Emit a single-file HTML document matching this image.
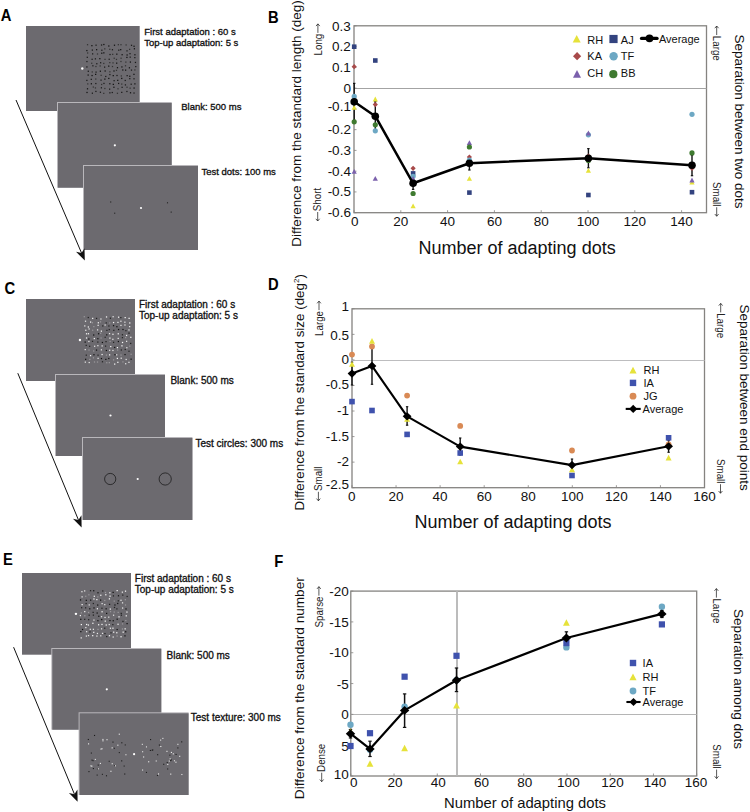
<!DOCTYPE html>
<html><head><meta charset="utf-8"><style>
html,body{margin:0;padding:0;background:#fff;}
body{width:750px;height:812px;overflow:hidden;font-family:"Liberation Sans", sans-serif;}
svg{display:block;}
</style></head><body>
<svg width="750" height="812" viewBox="0 0 750 812" font-family='"Liberation Sans", sans-serif'>
<rect width="750" height="812" fill="#fff"/>
<text x="0.70" y="21.20" font-size="16.6" text-anchor="start" font-weight="bold" fill="#000" transform="translate(0.7 21.2) scale(0.89 1) translate(-0.7 -21.2)">A</text>
<rect x="26" y="26" width="113.7" height="85" fill="#6c6a6f"/>
<rect x="57" y="102" width="114.7" height="85.7" fill="#b9b7bb"/>
<rect x="58" y="103" width="113.7" height="84.7" fill="#6c6a6f"/>
<rect x="83" y="165" width="115" height="85" fill="#b9b7bb"/>
<rect x="84" y="166" width="114" height="84" fill="#6c6a6f"/>
<rect x="86.92" y="44.09" width="1.24" height="1.24" fill="#333"/>
<rect x="86.26" y="49.95" width="1.24" height="1.24" fill="#111"/>
<rect x="87.02" y="52.37" width="1.24" height="1.24" fill="#333"/>
<rect x="86.66" y="56.69" width="1.24" height="1.24" fill="#1a1a1a"/>
<rect x="86.31" y="60.95" width="1.24" height="1.24" fill="#1a1a1a"/>
<rect x="86.29" y="66.34" width="1.24" height="1.24" fill="#111"/>
<rect x="87.66" y="70.63" width="1.24" height="1.24" fill="#111"/>
<rect x="87.53" y="74.43" width="1.24" height="1.24" fill="#111"/>
<rect x="86.26" y="79.79" width="1.24" height="1.24" fill="#1a1a1a"/>
<rect x="87.15" y="83.28" width="1.24" height="1.24" fill="#333"/>
<rect x="86.89" y="88.19" width="1.24" height="1.24" fill="#111"/>
<rect x="86.39" y="91.85" width="1.24" height="1.24" fill="#111"/>
<rect x="91.28" y="45.04" width="1.24" height="1.24" fill="#111"/>
<rect x="91.74" y="49.47" width="1.24" height="1.24" fill="#1a1a1a"/>
<rect x="92.02" y="53.26" width="1.24" height="1.24" fill="#1a1a1a"/>
<rect x="91.50" y="58.70" width="1.24" height="1.24" fill="#1a1a1a"/>
<rect x="91.10" y="62.64" width="1.24" height="1.24" fill="#333"/>
<rect x="92.26" y="65.18" width="1.24" height="1.24" fill="#1a1a1a"/>
<rect x="91.64" y="71.33" width="1.24" height="1.24" fill="#333"/>
<rect x="91.46" y="74.94" width="1.24" height="1.24" fill="#111"/>
<rect x="90.67" y="78.73" width="1.24" height="1.24" fill="#1a1a1a"/>
<rect x="90.75" y="83.15" width="1.24" height="1.24" fill="#111"/>
<rect x="92.69" y="86.42" width="1.24" height="1.24" fill="#333"/>
<rect x="91.76" y="92.58" width="1.24" height="1.24" fill="#1a1a1a"/>
<rect x="95.44" y="44.57" width="1.24" height="1.24" fill="#1a1a1a"/>
<rect x="96.01" y="49.07" width="1.24" height="1.24" fill="#111"/>
<rect x="96.89" y="53.37" width="1.24" height="1.24" fill="#333"/>
<rect x="94.78" y="58.23" width="1.24" height="1.24" fill="#1a1a1a"/>
<rect x="96.18" y="63.11" width="1.24" height="1.24" fill="#1a1a1a"/>
<rect x="95.31" y="65.91" width="1.24" height="1.24" fill="#333"/>
<rect x="95.46" y="71.49" width="1.24" height="1.24" fill="#1a1a1a"/>
<rect x="95.03" y="73.76" width="1.24" height="1.24" fill="#111"/>
<rect x="95.15" y="78.42" width="1.24" height="1.24" fill="#333"/>
<rect x="95.22" y="82.92" width="1.24" height="1.24" fill="#1a1a1a"/>
<rect x="94.82" y="87.31" width="1.24" height="1.24" fill="#333"/>
<rect x="95.29" y="90.81" width="1.24" height="1.24" fill="#1a1a1a"/>
<rect x="100.93" y="44.40" width="1.24" height="1.24" fill="#1a1a1a"/>
<rect x="101.23" y="49.62" width="1.24" height="1.24" fill="#1a1a1a"/>
<rect x="101.16" y="52.59" width="1.24" height="1.24" fill="#111"/>
<rect x="99.22" y="58.06" width="1.24" height="1.24" fill="#111"/>
<rect x="100.02" y="62.14" width="1.24" height="1.24" fill="#1a1a1a"/>
<rect x="99.54" y="65.33" width="1.24" height="1.24" fill="#333"/>
<rect x="99.75" y="70.59" width="1.24" height="1.24" fill="#111"/>
<rect x="100.52" y="74.72" width="1.24" height="1.24" fill="#333"/>
<rect x="100.43" y="79.51" width="1.24" height="1.24" fill="#1a1a1a"/>
<rect x="101.02" y="83.85" width="1.24" height="1.24" fill="#333"/>
<rect x="100.78" y="87.17" width="1.24" height="1.24" fill="#1a1a1a"/>
<rect x="99.81" y="91.64" width="1.24" height="1.24" fill="#1a1a1a"/>
<rect x="103.25" y="43.89" width="1.24" height="1.24" fill="#111"/>
<rect x="104.16" y="48.24" width="1.24" height="1.24" fill="#333"/>
<rect x="103.22" y="52.23" width="1.24" height="1.24" fill="#111"/>
<rect x="104.39" y="58.76" width="1.24" height="1.24" fill="#333"/>
<rect x="103.16" y="62.83" width="1.24" height="1.24" fill="#333"/>
<rect x="104.00" y="66.50" width="1.24" height="1.24" fill="#1a1a1a"/>
<rect x="104.54" y="70.37" width="1.24" height="1.24" fill="#111"/>
<rect x="105.14" y="75.86" width="1.24" height="1.24" fill="#1a1a1a"/>
<rect x="104.25" y="78.48" width="1.24" height="1.24" fill="#111"/>
<rect x="103.34" y="82.80" width="1.24" height="1.24" fill="#1a1a1a"/>
<rect x="104.25" y="87.89" width="1.24" height="1.24" fill="#333"/>
<rect x="103.15" y="92.76" width="1.24" height="1.24" fill="#333"/>
<rect x="108.20" y="45.39" width="1.24" height="1.24" fill="#111"/>
<rect x="109.16" y="48.70" width="1.24" height="1.24" fill="#333"/>
<rect x="109.41" y="53.90" width="1.24" height="1.24" fill="#1a1a1a"/>
<rect x="108.58" y="58.66" width="1.24" height="1.24" fill="#1a1a1a"/>
<rect x="109.19" y="62.01" width="1.24" height="1.24" fill="#333"/>
<rect x="108.13" y="65.52" width="1.24" height="1.24" fill="#111"/>
<rect x="109.27" y="71.19" width="1.24" height="1.24" fill="#333"/>
<rect x="109.26" y="73.96" width="1.24" height="1.24" fill="#1a1a1a"/>
<rect x="108.19" y="77.80" width="1.24" height="1.24" fill="#111"/>
<rect x="109.23" y="83.11" width="1.24" height="1.24" fill="#111"/>
<rect x="109.00" y="88.53" width="1.24" height="1.24" fill="#1a1a1a"/>
<rect x="109.28" y="92.22" width="1.24" height="1.24" fill="#1a1a1a"/>
<rect x="113.87" y="44.61" width="1.24" height="1.24" fill="#111"/>
<rect x="111.82" y="49.11" width="1.24" height="1.24" fill="#1a1a1a"/>
<rect x="112.06" y="53.73" width="1.24" height="1.24" fill="#333"/>
<rect x="113.59" y="57.63" width="1.24" height="1.24" fill="#333"/>
<rect x="112.40" y="62.27" width="1.24" height="1.24" fill="#333"/>
<rect x="111.86" y="65.91" width="1.24" height="1.24" fill="#333"/>
<rect x="113.37" y="70.38" width="1.24" height="1.24" fill="#111"/>
<rect x="112.62" y="75.01" width="1.24" height="1.24" fill="#111"/>
<rect x="113.50" y="80.06" width="1.24" height="1.24" fill="#1a1a1a"/>
<rect x="112.69" y="83.76" width="1.24" height="1.24" fill="#111"/>
<rect x="113.31" y="86.64" width="1.24" height="1.24" fill="#111"/>
<rect x="111.64" y="91.90" width="1.24" height="1.24" fill="#1a1a1a"/>
<rect x="117.75" y="44.08" width="1.24" height="1.24" fill="#333"/>
<rect x="118.16" y="49.56" width="1.24" height="1.24" fill="#1a1a1a"/>
<rect x="116.19" y="53.55" width="1.24" height="1.24" fill="#111"/>
<rect x="115.85" y="58.81" width="1.24" height="1.24" fill="#333"/>
<rect x="116.06" y="62.53" width="1.24" height="1.24" fill="#111"/>
<rect x="116.85" y="67.07" width="1.24" height="1.24" fill="#111"/>
<rect x="115.88" y="69.74" width="1.24" height="1.24" fill="#333"/>
<rect x="116.39" y="74.89" width="1.24" height="1.24" fill="#1a1a1a"/>
<rect x="117.12" y="79.73" width="1.24" height="1.24" fill="#111"/>
<rect x="118.00" y="82.83" width="1.24" height="1.24" fill="#1a1a1a"/>
<rect x="117.40" y="88.19" width="1.24" height="1.24" fill="#333"/>
<rect x="116.82" y="92.68" width="1.24" height="1.24" fill="#333"/>
<rect x="120.36" y="44.09" width="1.24" height="1.24" fill="#333"/>
<rect x="120.09" y="49.04" width="1.24" height="1.24" fill="#111"/>
<rect x="121.51" y="54.09" width="1.24" height="1.24" fill="#111"/>
<rect x="120.46" y="57.62" width="1.24" height="1.24" fill="#333"/>
<rect x="120.34" y="60.88" width="1.24" height="1.24" fill="#333"/>
<rect x="121.29" y="66.31" width="1.24" height="1.24" fill="#111"/>
<rect x="122.17" y="69.37" width="1.24" height="1.24" fill="#111"/>
<rect x="120.71" y="75.33" width="1.24" height="1.24" fill="#333"/>
<rect x="121.13" y="77.80" width="1.24" height="1.24" fill="#111"/>
<rect x="121.11" y="83.45" width="1.24" height="1.24" fill="#333"/>
<rect x="121.50" y="86.71" width="1.24" height="1.24" fill="#1a1a1a"/>
<rect x="121.14" y="91.76" width="1.24" height="1.24" fill="#1a1a1a"/>
<rect x="125.51" y="44.32" width="1.24" height="1.24" fill="#333"/>
<rect x="126.39" y="50.24" width="1.24" height="1.24" fill="#1a1a1a"/>
<rect x="126.50" y="54.37" width="1.24" height="1.24" fill="#111"/>
<rect x="126.30" y="56.81" width="1.24" height="1.24" fill="#111"/>
<rect x="125.23" y="61.49" width="1.24" height="1.24" fill="#333"/>
<rect x="124.87" y="65.16" width="1.24" height="1.24" fill="#333"/>
<rect x="125.01" y="69.52" width="1.24" height="1.24" fill="#111"/>
<rect x="126.54" y="75.02" width="1.24" height="1.24" fill="#1a1a1a"/>
<rect x="124.63" y="79.85" width="1.24" height="1.24" fill="#1a1a1a"/>
<rect x="124.81" y="84.27" width="1.24" height="1.24" fill="#1a1a1a"/>
<rect x="126.41" y="86.62" width="1.24" height="1.24" fill="#333"/>
<rect x="126.29" y="90.87" width="1.24" height="1.24" fill="#1a1a1a"/>
<rect x="130.91" y="44.70" width="1.24" height="1.24" fill="#1a1a1a"/>
<rect x="129.00" y="48.74" width="1.24" height="1.24" fill="#333"/>
<rect x="129.40" y="53.04" width="1.24" height="1.24" fill="#1a1a1a"/>
<rect x="129.58" y="56.52" width="1.24" height="1.24" fill="#1a1a1a"/>
<rect x="129.77" y="61.44" width="1.24" height="1.24" fill="#111"/>
<rect x="128.80" y="67.18" width="1.24" height="1.24" fill="#111"/>
<rect x="130.86" y="69.48" width="1.24" height="1.24" fill="#1a1a1a"/>
<rect x="129.18" y="75.65" width="1.24" height="1.24" fill="#111"/>
<rect x="129.17" y="78.04" width="1.24" height="1.24" fill="#1a1a1a"/>
<rect x="130.56" y="83.60" width="1.24" height="1.24" fill="#1a1a1a"/>
<rect x="129.50" y="87.52" width="1.24" height="1.24" fill="#333"/>
<rect x="129.90" y="92.16" width="1.24" height="1.24" fill="#111"/>
<rect x="133.43" y="45.65" width="1.24" height="1.24" fill="#111"/>
<rect x="133.78" y="48.15" width="1.24" height="1.24" fill="#111"/>
<rect x="134.29" y="54.15" width="1.24" height="1.24" fill="#111"/>
<rect x="134.22" y="57.01" width="1.24" height="1.24" fill="#1a1a1a"/>
<rect x="134.83" y="61.82" width="1.24" height="1.24" fill="#1a1a1a"/>
<rect x="135.15" y="65.98" width="1.24" height="1.24" fill="#1a1a1a"/>
<rect x="134.26" y="69.33" width="1.24" height="1.24" fill="#333"/>
<rect x="133.34" y="73.74" width="1.24" height="1.24" fill="#111"/>
<rect x="133.39" y="78.16" width="1.24" height="1.24" fill="#1a1a1a"/>
<rect x="134.27" y="83.25" width="1.24" height="1.24" fill="#111"/>
<rect x="133.46" y="87.43" width="1.24" height="1.24" fill="#111"/>
<rect x="133.41" y="92.41" width="1.24" height="1.24" fill="#1a1a1a"/>
<circle cx="82.28" cy="68.50" r="1.2" fill="#fff"/>
<circle cx="114.85" cy="145.35" r="1.1" fill="#fff"/>
<circle cx="141.00" cy="208.00" r="1.1" fill="#fff"/>
<rect x="110.15" y="201.45" width="1.10" height="1.10" fill="#222"/>
<rect x="114.15" y="212.65" width="1.10" height="1.10" fill="#222"/>
<rect x="166.95" y="202.25" width="1.10" height="1.10" fill="#222"/>
<rect x="170.65" y="211.55" width="1.10" height="1.10" fill="#222"/>
<text x="144.30" y="35.10" font-size="9.5" text-anchor="start" fill="#111" stroke="#111" stroke-width="0.32">First adaptation : 60 s</text>
<text x="144.30" y="46.10" font-size="9.5" text-anchor="start" fill="#111" stroke="#111" stroke-width="0.32">Top-up adaptation: 5 s</text>
<text x="181.20" y="110.00" font-size="9.5" text-anchor="start" fill="#111" stroke="#111" stroke-width="0.32">Blank: 500 ms</text>
<text x="201.40" y="174.60" font-size="9.5" text-anchor="start" fill="#111" stroke="#111" stroke-width="0.32">Test dots: 100 ms</text>
<line x1="16" y1="100" x2="81.54" y2="252.99" stroke="#111" stroke-width="1"/>
<polygon points="84.8,260.6 76.04,251.84 81.54,252.99 84.50,248.22" fill="#111"/>
<text x="4.40" y="294.00" font-size="16.6" text-anchor="start" font-weight="bold" fill="#000" transform="translate(4.4 294.0) scale(0.89 1) translate(-4.4 -294.0)">C</text>
<rect x="26" y="299" width="109" height="82" fill="#6c6a6f"/>
<rect x="55" y="374" width="110" height="82" fill="#b9b7bb"/>
<rect x="56" y="375" width="109" height="81" fill="#6c6a6f"/>
<rect x="82" y="437" width="110.4" height="83" fill="#b9b7bb"/>
<rect x="83" y="438" width="109.4" height="82" fill="#6c6a6f"/>
<rect x="83.67" y="316.08" width="1.24" height="1.24" fill="#9a989c"/>
<rect x="84.91" y="320.59" width="1.24" height="1.24" fill="#e8e8e8"/>
<rect x="84.17" y="325.31" width="1.24" height="1.24" fill="#e8e8e8"/>
<rect x="85.16" y="329.65" width="1.24" height="1.24" fill="#e8e8e8"/>
<rect x="85.91" y="333.18" width="1.24" height="1.24" fill="#f8f8f8"/>
<rect x="85.94" y="337.36" width="1.24" height="1.24" fill="#f8f8f8"/>
<rect x="84.56" y="341.47" width="1.24" height="1.24" fill="#111"/>
<rect x="85.59" y="344.77" width="1.24" height="1.24" fill="#222"/>
<rect x="84.62" y="348.97" width="1.24" height="1.24" fill="#e8e8e8"/>
<rect x="85.67" y="354.55" width="1.24" height="1.24" fill="#222"/>
<rect x="85.02" y="358.70" width="1.24" height="1.24" fill="#111"/>
<rect x="84.69" y="361.52" width="1.24" height="1.24" fill="#e8e8e8"/>
<rect x="87.66" y="316.91" width="1.24" height="1.24" fill="#222"/>
<rect x="89.98" y="321.45" width="1.24" height="1.24" fill="#f8f8f8"/>
<rect x="87.73" y="326.36" width="1.24" height="1.24" fill="#f8f8f8"/>
<rect x="88.50" y="328.34" width="1.24" height="1.24" fill="#e8e8e8"/>
<rect x="87.85" y="333.11" width="1.24" height="1.24" fill="#f8f8f8"/>
<rect x="88.24" y="338.40" width="1.24" height="1.24" fill="#111"/>
<rect x="88.28" y="340.86" width="1.24" height="1.24" fill="#e8e8e8"/>
<rect x="89.06" y="345.69" width="1.24" height="1.24" fill="#222"/>
<rect x="88.38" y="349.40" width="1.24" height="1.24" fill="#9a989c"/>
<rect x="89.95" y="354.99" width="1.24" height="1.24" fill="#f8f8f8"/>
<rect x="89.23" y="358.76" width="1.24" height="1.24" fill="#9a989c"/>
<rect x="88.58" y="361.92" width="1.24" height="1.24" fill="#e8e8e8"/>
<rect x="92.07" y="317.78" width="1.24" height="1.24" fill="#f8f8f8"/>
<rect x="91.82" y="322.14" width="1.24" height="1.24" fill="#9a989c"/>
<rect x="93.22" y="326.00" width="1.24" height="1.24" fill="#9a989c"/>
<rect x="92.04" y="329.60" width="1.24" height="1.24" fill="#9a989c"/>
<rect x="93.07" y="334.39" width="1.24" height="1.24" fill="#111"/>
<rect x="93.69" y="337.94" width="1.24" height="1.24" fill="#f8f8f8"/>
<rect x="91.91" y="340.74" width="1.24" height="1.24" fill="#222"/>
<rect x="94.01" y="345.64" width="1.24" height="1.24" fill="#e8e8e8"/>
<rect x="93.05" y="350.35" width="1.24" height="1.24" fill="#9a989c"/>
<rect x="93.34" y="354.11" width="1.24" height="1.24" fill="#111"/>
<rect x="92.81" y="357.21" width="1.24" height="1.24" fill="#9a989c"/>
<rect x="93.87" y="361.36" width="1.24" height="1.24" fill="#9a989c"/>
<rect x="95.93" y="317.81" width="1.24" height="1.24" fill="#222"/>
<rect x="97.72" y="322.17" width="1.24" height="1.24" fill="#f8f8f8"/>
<rect x="97.52" y="324.73" width="1.24" height="1.24" fill="#e8e8e8"/>
<rect x="96.96" y="329.26" width="1.24" height="1.24" fill="#e8e8e8"/>
<rect x="97.96" y="333.13" width="1.24" height="1.24" fill="#111"/>
<rect x="97.25" y="338.08" width="1.24" height="1.24" fill="#111"/>
<rect x="97.21" y="341.44" width="1.24" height="1.24" fill="#222"/>
<rect x="97.26" y="345.06" width="1.24" height="1.24" fill="#e8e8e8"/>
<rect x="95.92" y="349.49" width="1.24" height="1.24" fill="#111"/>
<rect x="97.43" y="354.56" width="1.24" height="1.24" fill="#222"/>
<rect x="97.47" y="357.73" width="1.24" height="1.24" fill="#e8e8e8"/>
<rect x="96.89" y="361.42" width="1.24" height="1.24" fill="#9a989c"/>
<rect x="100.31" y="318.39" width="1.24" height="1.24" fill="#e8e8e8"/>
<rect x="99.88" y="321.24" width="1.24" height="1.24" fill="#9a989c"/>
<rect x="102.16" y="325.32" width="1.24" height="1.24" fill="#222"/>
<rect x="100.76" y="330.54" width="1.24" height="1.24" fill="#f8f8f8"/>
<rect x="100.01" y="332.66" width="1.24" height="1.24" fill="#9a989c"/>
<rect x="100.46" y="337.40" width="1.24" height="1.24" fill="#9a989c"/>
<rect x="101.80" y="341.86" width="1.24" height="1.24" fill="#111"/>
<rect x="101.52" y="345.30" width="1.24" height="1.24" fill="#e8e8e8"/>
<rect x="100.78" y="349.22" width="1.24" height="1.24" fill="#e8e8e8"/>
<rect x="101.47" y="353.91" width="1.24" height="1.24" fill="#f8f8f8"/>
<rect x="100.83" y="357.94" width="1.24" height="1.24" fill="#111"/>
<rect x="101.85" y="361.14" width="1.24" height="1.24" fill="#222"/>
<rect x="105.91" y="316.33" width="1.24" height="1.24" fill="#f8f8f8"/>
<rect x="105.61" y="322.30" width="1.24" height="1.24" fill="#222"/>
<rect x="104.51" y="324.40" width="1.24" height="1.24" fill="#e8e8e8"/>
<rect x="106.30" y="329.75" width="1.24" height="1.24" fill="#222"/>
<rect x="106.12" y="334.25" width="1.24" height="1.24" fill="#111"/>
<rect x="104.57" y="336.66" width="1.24" height="1.24" fill="#222"/>
<rect x="105.42" y="341.00" width="1.24" height="1.24" fill="#222"/>
<rect x="104.95" y="345.50" width="1.24" height="1.24" fill="#222"/>
<rect x="105.78" y="349.87" width="1.24" height="1.24" fill="#111"/>
<rect x="105.85" y="354.45" width="1.24" height="1.24" fill="#9a989c"/>
<rect x="105.22" y="358.77" width="1.24" height="1.24" fill="#111"/>
<rect x="106.14" y="362.13" width="1.24" height="1.24" fill="#9a989c"/>
<rect x="109.77" y="317.59" width="1.24" height="1.24" fill="#222"/>
<rect x="109.13" y="322.33" width="1.24" height="1.24" fill="#9a989c"/>
<rect x="108.27" y="325.37" width="1.24" height="1.24" fill="#222"/>
<rect x="108.64" y="328.95" width="1.24" height="1.24" fill="#222"/>
<rect x="108.94" y="333.01" width="1.24" height="1.24" fill="#e8e8e8"/>
<rect x="109.30" y="337.49" width="1.24" height="1.24" fill="#f8f8f8"/>
<rect x="109.51" y="340.82" width="1.24" height="1.24" fill="#9a989c"/>
<rect x="110.14" y="345.93" width="1.24" height="1.24" fill="#f8f8f8"/>
<rect x="109.05" y="349.64" width="1.24" height="1.24" fill="#e8e8e8"/>
<rect x="108.99" y="354.25" width="1.24" height="1.24" fill="#f8f8f8"/>
<rect x="108.18" y="357.86" width="1.24" height="1.24" fill="#111"/>
<rect x="108.73" y="362.02" width="1.24" height="1.24" fill="#9a989c"/>
<rect x="112.51" y="316.09" width="1.24" height="1.24" fill="#e8e8e8"/>
<rect x="112.94" y="321.93" width="1.24" height="1.24" fill="#f8f8f8"/>
<rect x="112.93" y="325.05" width="1.24" height="1.24" fill="#111"/>
<rect x="113.22" y="329.72" width="1.24" height="1.24" fill="#222"/>
<rect x="112.33" y="333.65" width="1.24" height="1.24" fill="#f8f8f8"/>
<rect x="112.25" y="338.69" width="1.24" height="1.24" fill="#e8e8e8"/>
<rect x="112.98" y="341.71" width="1.24" height="1.24" fill="#222"/>
<rect x="114.06" y="346.83" width="1.24" height="1.24" fill="#111"/>
<rect x="112.33" y="349.86" width="1.24" height="1.24" fill="#e8e8e8"/>
<rect x="114.35" y="354.12" width="1.24" height="1.24" fill="#111"/>
<rect x="112.96" y="359.26" width="1.24" height="1.24" fill="#9a989c"/>
<rect x="114.08" y="363.47" width="1.24" height="1.24" fill="#f8f8f8"/>
<rect x="117.97" y="316.58" width="1.24" height="1.24" fill="#f8f8f8"/>
<rect x="117.34" y="321.78" width="1.24" height="1.24" fill="#e8e8e8"/>
<rect x="116.29" y="326.10" width="1.24" height="1.24" fill="#111"/>
<rect x="117.96" y="328.90" width="1.24" height="1.24" fill="#111"/>
<rect x="117.64" y="333.17" width="1.24" height="1.24" fill="#f8f8f8"/>
<rect x="117.59" y="337.81" width="1.24" height="1.24" fill="#e8e8e8"/>
<rect x="117.76" y="340.91" width="1.24" height="1.24" fill="#111"/>
<rect x="116.81" y="347.00" width="1.24" height="1.24" fill="#f8f8f8"/>
<rect x="117.02" y="349.38" width="1.24" height="1.24" fill="#9a989c"/>
<rect x="116.09" y="354.23" width="1.24" height="1.24" fill="#e8e8e8"/>
<rect x="116.76" y="357.80" width="1.24" height="1.24" fill="#f8f8f8"/>
<rect x="117.23" y="361.70" width="1.24" height="1.24" fill="#f8f8f8"/>
<rect x="120.22" y="317.03" width="1.24" height="1.24" fill="#222"/>
<rect x="120.28" y="320.61" width="1.24" height="1.24" fill="#e8e8e8"/>
<rect x="120.34" y="324.79" width="1.24" height="1.24" fill="#e8e8e8"/>
<rect x="122.37" y="328.88" width="1.24" height="1.24" fill="#111"/>
<rect x="121.82" y="334.16" width="1.24" height="1.24" fill="#222"/>
<rect x="121.79" y="337.02" width="1.24" height="1.24" fill="#222"/>
<rect x="121.92" y="341.85" width="1.24" height="1.24" fill="#f8f8f8"/>
<rect x="121.34" y="345.22" width="1.24" height="1.24" fill="#f8f8f8"/>
<rect x="120.70" y="349.37" width="1.24" height="1.24" fill="#222"/>
<rect x="120.41" y="354.44" width="1.24" height="1.24" fill="#9a989c"/>
<rect x="120.60" y="357.58" width="1.24" height="1.24" fill="#e8e8e8"/>
<rect x="122.33" y="361.28" width="1.24" height="1.24" fill="#9a989c"/>
<rect x="124.56" y="316.98" width="1.24" height="1.24" fill="#f8f8f8"/>
<rect x="124.27" y="321.57" width="1.24" height="1.24" fill="#e8e8e8"/>
<rect x="124.34" y="324.38" width="1.24" height="1.24" fill="#e8e8e8"/>
<rect x="125.29" y="330.05" width="1.24" height="1.24" fill="#222"/>
<rect x="125.97" y="334.83" width="1.24" height="1.24" fill="#f8f8f8"/>
<rect x="125.00" y="336.99" width="1.24" height="1.24" fill="#9a989c"/>
<rect x="126.00" y="340.72" width="1.24" height="1.24" fill="#e8e8e8"/>
<rect x="126.23" y="347.10" width="1.24" height="1.24" fill="#e8e8e8"/>
<rect x="124.62" y="348.85" width="1.24" height="1.24" fill="#222"/>
<rect x="124.41" y="353.95" width="1.24" height="1.24" fill="#111"/>
<rect x="125.56" y="358.86" width="1.24" height="1.24" fill="#e8e8e8"/>
<rect x="125.07" y="363.11" width="1.24" height="1.24" fill="#e8e8e8"/>
<rect x="128.49" y="317.73" width="1.24" height="1.24" fill="#f8f8f8"/>
<rect x="129.17" y="322.35" width="1.24" height="1.24" fill="#f8f8f8"/>
<rect x="129.05" y="326.01" width="1.24" height="1.24" fill="#e8e8e8"/>
<rect x="128.35" y="329.33" width="1.24" height="1.24" fill="#e8e8e8"/>
<rect x="128.37" y="332.52" width="1.24" height="1.24" fill="#111"/>
<rect x="130.20" y="336.69" width="1.24" height="1.24" fill="#f8f8f8"/>
<rect x="130.07" y="342.80" width="1.24" height="1.24" fill="#222"/>
<rect x="129.15" y="345.54" width="1.24" height="1.24" fill="#9a989c"/>
<rect x="128.38" y="350.63" width="1.24" height="1.24" fill="#222"/>
<rect x="130.49" y="353.65" width="1.24" height="1.24" fill="#9a989c"/>
<rect x="130.47" y="358.56" width="1.24" height="1.24" fill="#111"/>
<rect x="128.33" y="361.70" width="1.24" height="1.24" fill="#e8e8e8"/>
<circle cx="79.95" cy="340.00" r="1.2" fill="#fff"/>
<circle cx="110.50" cy="415.50" r="1.1" fill="#fff"/>
<circle cx="137.70" cy="479.00" r="1.1" fill="#fff"/>
<circle cx="110.20" cy="479.00" r="5.6" fill="none" stroke="#111" stroke-width="0.7"/>
<circle cx="165.20" cy="479.00" r="6.1" fill="none" stroke="#111" stroke-width="0.7"/>
<text x="139.00" y="307.80" font-size="10" text-anchor="start" fill="#111" stroke="#111" stroke-width="0.32">First adaptation : 60 s</text>
<text x="139.00" y="319.30" font-size="10" text-anchor="start" fill="#111" stroke="#111" stroke-width="0.32">Top-up adaptation: 5 s</text>
<text x="170.40" y="384.40" font-size="10" text-anchor="start" fill="#111" stroke="#111" stroke-width="0.32">Blank: 500 ms</text>
<text x="195.40" y="447.30" font-size="10" text-anchor="start" fill="#111" stroke="#111" stroke-width="0.32">Test circles: 300 ms</text>
<line x1="17.8" y1="373.2" x2="78.44" y2="519.95" stroke="#111" stroke-width="1"/>
<polygon points="81.6,527.6 72.96,518.73 78.44,519.95 81.46,515.21" fill="#111"/>
<text x="3.00" y="564.80" font-size="16.6" text-anchor="start" font-weight="bold" fill="#000" transform="translate(3.0 564.8) scale(0.89 1) translate(-3.0 -564.8)">E</text>
<rect x="22" y="573" width="109" height="81.7" fill="#6c6a6f"/>
<rect x="51.3" y="648" width="110" height="81.7" fill="#b9b7bb"/>
<rect x="52.3" y="649" width="109" height="80.7" fill="#6c6a6f"/>
<rect x="78.6" y="712.3" width="110.0" height="82.7" fill="#b9b7bb"/>
<rect x="79.6" y="713.3" width="109.0" height="81.7" fill="#6c6a6f"/>
<rect x="81.30" y="591.09" width="1.24" height="1.24" fill="#e8e8e8"/>
<rect x="81.48" y="596.25" width="1.24" height="1.24" fill="#e8e8e8"/>
<rect x="79.90" y="599.33" width="1.24" height="1.24" fill="#111"/>
<rect x="81.51" y="604.00" width="1.24" height="1.24" fill="#f8f8f8"/>
<rect x="81.04" y="607.10" width="1.24" height="1.24" fill="#222"/>
<rect x="80.69" y="612.28" width="1.24" height="1.24" fill="#9a989c"/>
<rect x="79.77" y="614.95" width="1.24" height="1.24" fill="#f8f8f8"/>
<rect x="80.18" y="618.72" width="1.24" height="1.24" fill="#111"/>
<rect x="80.74" y="623.96" width="1.24" height="1.24" fill="#f8f8f8"/>
<rect x="81.94" y="628.86" width="1.24" height="1.24" fill="#111"/>
<rect x="80.22" y="631.02" width="1.24" height="1.24" fill="#111"/>
<rect x="80.60" y="637.28" width="1.24" height="1.24" fill="#e8e8e8"/>
<rect x="84.06" y="590.29" width="1.24" height="1.24" fill="#e8e8e8"/>
<rect x="85.14" y="595.67" width="1.24" height="1.24" fill="#9a989c"/>
<rect x="85.68" y="599.74" width="1.24" height="1.24" fill="#111"/>
<rect x="85.52" y="602.93" width="1.24" height="1.24" fill="#222"/>
<rect x="85.01" y="607.21" width="1.24" height="1.24" fill="#222"/>
<rect x="84.13" y="610.99" width="1.24" height="1.24" fill="#f8f8f8"/>
<rect x="84.21" y="615.16" width="1.24" height="1.24" fill="#9a989c"/>
<rect x="84.10" y="618.72" width="1.24" height="1.24" fill="#222"/>
<rect x="86.03" y="623.87" width="1.24" height="1.24" fill="#f8f8f8"/>
<rect x="85.21" y="626.98" width="1.24" height="1.24" fill="#e8e8e8"/>
<rect x="86.03" y="631.07" width="1.24" height="1.24" fill="#e8e8e8"/>
<rect x="85.77" y="635.46" width="1.24" height="1.24" fill="#e8e8e8"/>
<rect x="89.90" y="590.07" width="1.24" height="1.24" fill="#222"/>
<rect x="88.27" y="594.18" width="1.24" height="1.24" fill="#9a989c"/>
<rect x="90.05" y="599.54" width="1.24" height="1.24" fill="#111"/>
<rect x="88.60" y="604.30" width="1.24" height="1.24" fill="#e8e8e8"/>
<rect x="89.16" y="608.17" width="1.24" height="1.24" fill="#111"/>
<rect x="87.96" y="611.83" width="1.24" height="1.24" fill="#9a989c"/>
<rect x="88.55" y="614.57" width="1.24" height="1.24" fill="#222"/>
<rect x="88.05" y="619.06" width="1.24" height="1.24" fill="#222"/>
<rect x="87.80" y="624.41" width="1.24" height="1.24" fill="#f8f8f8"/>
<rect x="89.67" y="628.70" width="1.24" height="1.24" fill="#e8e8e8"/>
<rect x="89.34" y="631.27" width="1.24" height="1.24" fill="#222"/>
<rect x="87.90" y="634.98" width="1.24" height="1.24" fill="#e8e8e8"/>
<rect x="93.09" y="590.12" width="1.24" height="1.24" fill="#111"/>
<rect x="93.68" y="595.65" width="1.24" height="1.24" fill="#f8f8f8"/>
<rect x="93.31" y="598.36" width="1.24" height="1.24" fill="#f8f8f8"/>
<rect x="92.73" y="602.88" width="1.24" height="1.24" fill="#222"/>
<rect x="93.38" y="607.31" width="1.24" height="1.24" fill="#111"/>
<rect x="92.52" y="611.76" width="1.24" height="1.24" fill="#222"/>
<rect x="92.77" y="614.52" width="1.24" height="1.24" fill="#222"/>
<rect x="93.32" y="619.50" width="1.24" height="1.24" fill="#e8e8e8"/>
<rect x="92.26" y="622.67" width="1.24" height="1.24" fill="#f8f8f8"/>
<rect x="92.79" y="628.70" width="1.24" height="1.24" fill="#e8e8e8"/>
<rect x="93.16" y="631.70" width="1.24" height="1.24" fill="#f8f8f8"/>
<rect x="92.09" y="635.03" width="1.24" height="1.24" fill="#f8f8f8"/>
<rect x="97.37" y="592.15" width="1.24" height="1.24" fill="#111"/>
<rect x="97.21" y="596.28" width="1.24" height="1.24" fill="#9a989c"/>
<rect x="96.25" y="598.98" width="1.24" height="1.24" fill="#f8f8f8"/>
<rect x="97.09" y="604.45" width="1.24" height="1.24" fill="#111"/>
<rect x="96.76" y="608.12" width="1.24" height="1.24" fill="#f8f8f8"/>
<rect x="96.56" y="612.41" width="1.24" height="1.24" fill="#111"/>
<rect x="98.18" y="615.64" width="1.24" height="1.24" fill="#111"/>
<rect x="97.29" y="620.09" width="1.24" height="1.24" fill="#111"/>
<rect x="98.01" y="624.14" width="1.24" height="1.24" fill="#f8f8f8"/>
<rect x="97.37" y="628.79" width="1.24" height="1.24" fill="#9a989c"/>
<rect x="96.81" y="632.85" width="1.24" height="1.24" fill="#e8e8e8"/>
<rect x="96.28" y="635.43" width="1.24" height="1.24" fill="#e8e8e8"/>
<rect x="102.15" y="590.35" width="1.24" height="1.24" fill="#222"/>
<rect x="100.19" y="594.65" width="1.24" height="1.24" fill="#f8f8f8"/>
<rect x="100.00" y="599.49" width="1.24" height="1.24" fill="#111"/>
<rect x="101.50" y="603.00" width="1.24" height="1.24" fill="#e8e8e8"/>
<rect x="101.34" y="607.63" width="1.24" height="1.24" fill="#222"/>
<rect x="101.46" y="611.14" width="1.24" height="1.24" fill="#f8f8f8"/>
<rect x="100.92" y="616.06" width="1.24" height="1.24" fill="#e8e8e8"/>
<rect x="101.11" y="619.00" width="1.24" height="1.24" fill="#111"/>
<rect x="101.38" y="623.83" width="1.24" height="1.24" fill="#f8f8f8"/>
<rect x="100.97" y="628.22" width="1.24" height="1.24" fill="#e8e8e8"/>
<rect x="101.91" y="632.77" width="1.24" height="1.24" fill="#e8e8e8"/>
<rect x="100.16" y="635.21" width="1.24" height="1.24" fill="#e8e8e8"/>
<rect x="104.84" y="591.90" width="1.24" height="1.24" fill="#9a989c"/>
<rect x="105.19" y="594.15" width="1.24" height="1.24" fill="#f8f8f8"/>
<rect x="104.16" y="599.90" width="1.24" height="1.24" fill="#9a989c"/>
<rect x="104.15" y="604.03" width="1.24" height="1.24" fill="#e8e8e8"/>
<rect x="105.53" y="608.19" width="1.24" height="1.24" fill="#111"/>
<rect x="106.02" y="612.79" width="1.24" height="1.24" fill="#111"/>
<rect x="104.43" y="616.84" width="1.24" height="1.24" fill="#e8e8e8"/>
<rect x="104.65" y="620.51" width="1.24" height="1.24" fill="#f8f8f8"/>
<rect x="105.61" y="624.38" width="1.24" height="1.24" fill="#f8f8f8"/>
<rect x="104.12" y="627.58" width="1.24" height="1.24" fill="#222"/>
<rect x="104.34" y="632.97" width="1.24" height="1.24" fill="#222"/>
<rect x="106.13" y="636.00" width="1.24" height="1.24" fill="#222"/>
<rect x="109.23" y="592.18" width="1.24" height="1.24" fill="#f8f8f8"/>
<rect x="109.44" y="595.53" width="1.24" height="1.24" fill="#f8f8f8"/>
<rect x="108.79" y="598.23" width="1.24" height="1.24" fill="#f8f8f8"/>
<rect x="108.99" y="603.75" width="1.24" height="1.24" fill="#222"/>
<rect x="109.66" y="608.46" width="1.24" height="1.24" fill="#f8f8f8"/>
<rect x="109.93" y="611.03" width="1.24" height="1.24" fill="#9a989c"/>
<rect x="108.14" y="616.54" width="1.24" height="1.24" fill="#e8e8e8"/>
<rect x="109.36" y="619.96" width="1.24" height="1.24" fill="#111"/>
<rect x="108.63" y="623.94" width="1.24" height="1.24" fill="#e8e8e8"/>
<rect x="109.80" y="627.63" width="1.24" height="1.24" fill="#e8e8e8"/>
<rect x="110.40" y="632.21" width="1.24" height="1.24" fill="#222"/>
<rect x="108.82" y="635.10" width="1.24" height="1.24" fill="#f8f8f8"/>
<rect x="112.51" y="591.76" width="1.24" height="1.24" fill="#111"/>
<rect x="112.80" y="595.29" width="1.24" height="1.24" fill="#222"/>
<rect x="113.62" y="600.50" width="1.24" height="1.24" fill="#9a989c"/>
<rect x="114.32" y="604.38" width="1.24" height="1.24" fill="#111"/>
<rect x="113.88" y="606.84" width="1.24" height="1.24" fill="#222"/>
<rect x="113.57" y="611.43" width="1.24" height="1.24" fill="#9a989c"/>
<rect x="112.96" y="614.60" width="1.24" height="1.24" fill="#e8e8e8"/>
<rect x="112.63" y="620.13" width="1.24" height="1.24" fill="#111"/>
<rect x="112.22" y="624.01" width="1.24" height="1.24" fill="#222"/>
<rect x="112.34" y="627.59" width="1.24" height="1.24" fill="#f8f8f8"/>
<rect x="113.08" y="631.54" width="1.24" height="1.24" fill="#f8f8f8"/>
<rect x="112.58" y="636.40" width="1.24" height="1.24" fill="#e8e8e8"/>
<rect x="116.53" y="590.00" width="1.24" height="1.24" fill="#f8f8f8"/>
<rect x="117.85" y="595.14" width="1.24" height="1.24" fill="#111"/>
<rect x="117.68" y="600.23" width="1.24" height="1.24" fill="#222"/>
<rect x="117.11" y="602.86" width="1.24" height="1.24" fill="#111"/>
<rect x="116.28" y="608.28" width="1.24" height="1.24" fill="#222"/>
<rect x="117.58" y="611.78" width="1.24" height="1.24" fill="#9a989c"/>
<rect x="118.40" y="616.24" width="1.24" height="1.24" fill="#f8f8f8"/>
<rect x="116.55" y="618.57" width="1.24" height="1.24" fill="#111"/>
<rect x="117.43" y="623.63" width="1.24" height="1.24" fill="#f8f8f8"/>
<rect x="116.53" y="628.92" width="1.24" height="1.24" fill="#111"/>
<rect x="116.18" y="632.14" width="1.24" height="1.24" fill="#f8f8f8"/>
<rect x="116.49" y="635.38" width="1.24" height="1.24" fill="#9a989c"/>
<rect x="121.75" y="591.53" width="1.24" height="1.24" fill="#e8e8e8"/>
<rect x="122.16" y="594.48" width="1.24" height="1.24" fill="#222"/>
<rect x="120.37" y="599.64" width="1.24" height="1.24" fill="#e8e8e8"/>
<rect x="121.93" y="602.24" width="1.24" height="1.24" fill="#e8e8e8"/>
<rect x="122.00" y="607.43" width="1.24" height="1.24" fill="#e8e8e8"/>
<rect x="120.63" y="612.79" width="1.24" height="1.24" fill="#222"/>
<rect x="120.77" y="614.57" width="1.24" height="1.24" fill="#222"/>
<rect x="122.35" y="620.79" width="1.24" height="1.24" fill="#222"/>
<rect x="121.92" y="623.29" width="1.24" height="1.24" fill="#9a989c"/>
<rect x="121.84" y="628.38" width="1.24" height="1.24" fill="#9a989c"/>
<rect x="122.54" y="631.53" width="1.24" height="1.24" fill="#f8f8f8"/>
<rect x="120.42" y="636.12" width="1.24" height="1.24" fill="#f8f8f8"/>
<rect x="124.90" y="590.54" width="1.24" height="1.24" fill="#f8f8f8"/>
<rect x="126.54" y="595.85" width="1.24" height="1.24" fill="#222"/>
<rect x="124.74" y="599.07" width="1.24" height="1.24" fill="#9a989c"/>
<rect x="124.85" y="604.40" width="1.24" height="1.24" fill="#9a989c"/>
<rect x="125.40" y="608.33" width="1.24" height="1.24" fill="#111"/>
<rect x="126.33" y="611.45" width="1.24" height="1.24" fill="#f8f8f8"/>
<rect x="125.64" y="615.22" width="1.24" height="1.24" fill="#f8f8f8"/>
<rect x="125.21" y="619.97" width="1.24" height="1.24" fill="#9a989c"/>
<rect x="126.46" y="623.00" width="1.24" height="1.24" fill="#111"/>
<rect x="124.54" y="628.23" width="1.24" height="1.24" fill="#f8f8f8"/>
<rect x="125.10" y="631.16" width="1.24" height="1.24" fill="#111"/>
<rect x="124.35" y="635.24" width="1.24" height="1.24" fill="#111"/>
<circle cx="75.95" cy="613.85" r="1.2" fill="#fff"/>
<circle cx="106.80" cy="689.35" r="1.1" fill="#fff"/>
<circle cx="134.10" cy="754.15" r="1.1" fill="#fff"/>
<rect x="97.67" y="764.54" width="1.10" height="1.10" fill="#1a1a1a"/>
<rect x="91.29" y="765.59" width="1.10" height="1.10" fill="#f0f0f0"/>
<rect x="92.85" y="768.02" width="1.10" height="1.10" fill="#1a1a1a"/>
<rect x="90.36" y="765.34" width="1.10" height="1.10" fill="#e5e5e5"/>
<rect x="121.27" y="742.24" width="1.10" height="1.10" fill="#1a1a1a"/>
<rect x="124.20" y="773.47" width="1.10" height="1.10" fill="#1a1a1a"/>
<rect x="92.55" y="760.12" width="1.10" height="1.10" fill="#222"/>
<rect x="106.47" y="739.17" width="1.10" height="1.10" fill="#f0f0f0"/>
<rect x="113.77" y="747.73" width="1.10" height="1.10" fill="#222"/>
<rect x="124.71" y="744.38" width="1.10" height="1.10" fill="#222"/>
<rect x="123.61" y="765.51" width="1.10" height="1.10" fill="#222"/>
<rect x="94.78" y="758.88" width="1.10" height="1.10" fill="#e5e5e5"/>
<rect x="91.49" y="759.57" width="1.10" height="1.10" fill="#1a1a1a"/>
<rect x="93.99" y="734.91" width="1.10" height="1.10" fill="#1a1a1a"/>
<rect x="111.68" y="763.20" width="1.10" height="1.10" fill="#f0f0f0"/>
<rect x="96.97" y="768.37" width="1.10" height="1.10" fill="#222"/>
<rect x="118.74" y="733.65" width="1.10" height="1.10" fill="#f0f0f0"/>
<rect x="114.02" y="765.12" width="1.10" height="1.10" fill="#1a1a1a"/>
<rect x="125.38" y="754.21" width="1.10" height="1.10" fill="#e5e5e5"/>
<rect x="97.74" y="768.26" width="1.10" height="1.10" fill="#e5e5e5"/>
<rect x="101.85" y="773.80" width="1.10" height="1.10" fill="#222"/>
<rect x="102.43" y="740.27" width="1.10" height="1.10" fill="#f0f0f0"/>
<rect x="88.02" y="743.32" width="1.10" height="1.10" fill="#f0f0f0"/>
<rect x="121.15" y="760.33" width="1.10" height="1.10" fill="#1a1a1a"/>
<rect x="105.94" y="775.23" width="1.10" height="1.10" fill="#1a1a1a"/>
<rect x="100.43" y="748.54" width="1.10" height="1.10" fill="#e5e5e5"/>
<rect x="88.41" y="771.06" width="1.10" height="1.10" fill="#1a1a1a"/>
<rect x="108.66" y="760.73" width="1.10" height="1.10" fill="#222"/>
<rect x="117.31" y="744.65" width="1.10" height="1.10" fill="#f0f0f0"/>
<rect x="110.38" y="770.73" width="1.10" height="1.10" fill="#f0f0f0"/>
<rect x="87.79" y="738.93" width="1.10" height="1.10" fill="#1a1a1a"/>
<rect x="111.61" y="747.32" width="1.10" height="1.10" fill="#f0f0f0"/>
<rect x="90.83" y="752.51" width="1.10" height="1.10" fill="#222"/>
<rect x="118.77" y="752.03" width="1.10" height="1.10" fill="#222"/>
<rect x="102.38" y="738.89" width="1.10" height="1.10" fill="#e5e5e5"/>
<rect x="99.84" y="762.86" width="1.10" height="1.10" fill="#f0f0f0"/>
<rect x="114.85" y="765.30" width="1.10" height="1.10" fill="#f0f0f0"/>
<rect x="96.62" y="774.54" width="1.10" height="1.10" fill="#222"/>
<rect x="101.43" y="748.24" width="1.10" height="1.10" fill="#f0f0f0"/>
<rect x="112.43" y="741.55" width="1.10" height="1.10" fill="#1a1a1a"/>
<rect x="148.13" y="761.23" width="1.10" height="1.10" fill="#f0f0f0"/>
<rect x="156.92" y="774.92" width="1.10" height="1.10" fill="#222"/>
<rect x="170.88" y="751.87" width="1.10" height="1.10" fill="#f0f0f0"/>
<rect x="145.92" y="771.88" width="1.10" height="1.10" fill="#222"/>
<rect x="149.81" y="749.91" width="1.10" height="1.10" fill="#1a1a1a"/>
<rect x="142.05" y="769.48" width="1.10" height="1.10" fill="#e5e5e5"/>
<rect x="169.29" y="754.62" width="1.10" height="1.10" fill="#222"/>
<rect x="160.08" y="739.56" width="1.10" height="1.10" fill="#e5e5e5"/>
<rect x="141.77" y="743.78" width="1.10" height="1.10" fill="#e5e5e5"/>
<rect x="169.60" y="758.27" width="1.10" height="1.10" fill="#e5e5e5"/>
<rect x="175.39" y="761.65" width="1.10" height="1.10" fill="#f0f0f0"/>
<rect x="168.73" y="760.54" width="1.10" height="1.10" fill="#e5e5e5"/>
<rect x="158.85" y="744.51" width="1.10" height="1.10" fill="#1a1a1a"/>
<rect x="177.34" y="743.78" width="1.10" height="1.10" fill="#e5e5e5"/>
<rect x="170.08" y="760.04" width="1.10" height="1.10" fill="#222"/>
<rect x="175.53" y="753.88" width="1.10" height="1.10" fill="#1a1a1a"/>
<rect x="166.41" y="750.79" width="1.10" height="1.10" fill="#f0f0f0"/>
<rect x="177.33" y="747.38" width="1.10" height="1.10" fill="#1a1a1a"/>
<rect x="157.10" y="754.17" width="1.10" height="1.10" fill="#1a1a1a"/>
<rect x="143.08" y="756.42" width="1.10" height="1.10" fill="#f0f0f0"/>
<rect x="170.20" y="773.56" width="1.10" height="1.10" fill="#f0f0f0"/>
<rect x="162.32" y="737.85" width="1.10" height="1.10" fill="#e5e5e5"/>
<rect x="163.19" y="763.73" width="1.10" height="1.10" fill="#1a1a1a"/>
<rect x="167.12" y="768.42" width="1.10" height="1.10" fill="#222"/>
<rect x="157.96" y="773.41" width="1.10" height="1.10" fill="#f0f0f0"/>
<rect x="181.16" y="741.32" width="1.10" height="1.10" fill="#1a1a1a"/>
<rect x="170.71" y="759.39" width="1.10" height="1.10" fill="#1a1a1a"/>
<rect x="151.65" y="749.64" width="1.10" height="1.10" fill="#1a1a1a"/>
<rect x="142.08" y="751.18" width="1.10" height="1.10" fill="#e5e5e5"/>
<rect x="166.69" y="761.95" width="1.10" height="1.10" fill="#222"/>
<rect x="145.92" y="746.35" width="1.10" height="1.10" fill="#e5e5e5"/>
<rect x="179.15" y="755.74" width="1.10" height="1.10" fill="#f0f0f0"/>
<rect x="181.32" y="773.96" width="1.10" height="1.10" fill="#e5e5e5"/>
<rect x="150.03" y="739.03" width="1.10" height="1.10" fill="#1a1a1a"/>
<rect x="173.93" y="760.24" width="1.10" height="1.10" fill="#e5e5e5"/>
<rect x="167.24" y="763.87" width="1.10" height="1.10" fill="#f0f0f0"/>
<rect x="155.68" y="760.43" width="1.10" height="1.10" fill="#e5e5e5"/>
<rect x="160.27" y="745.96" width="1.10" height="1.10" fill="#f0f0f0"/>
<rect x="172.74" y="753.31" width="1.10" height="1.10" fill="#f0f0f0"/>
<rect x="152.25" y="749.40" width="1.10" height="1.10" fill="#222"/>
<text x="134.80" y="582.00" font-size="10" text-anchor="start" fill="#111" stroke="#111" stroke-width="0.32">First adaptation : 60 s</text>
<text x="134.80" y="593.20" font-size="10" text-anchor="start" fill="#111" stroke="#111" stroke-width="0.32">Top-up adaptation: 5 s</text>
<text x="166.50" y="658.60" font-size="10" text-anchor="start" fill="#111" stroke="#111" stroke-width="0.32">Blank: 500 ms</text>
<text x="190.80" y="721.30" font-size="10" text-anchor="start" fill="#111" stroke="#111" stroke-width="0.32">Test texture: 300 ms</text>
<line x1="13.6" y1="647.2" x2="74.43" y2="794.15" stroke="#111" stroke-width="1"/>
<polygon points="77.6,801.8 68.95,792.93 74.43,794.15 77.45,789.42" fill="#111"/>
<text x="268.00" y="22.70" font-size="16.6" text-anchor="start" font-weight="bold" fill="#000" transform="translate(268.0 22.7) scale(0.89 1) translate(-268.0 -22.7)">B</text>
<rect x="354" y="25.8" width="352.5" height="186.89999999999998" fill="none" stroke="#858380" stroke-width="1.3"/>
<line x1="354" y1="88.50" x2="706.5" y2="88.50" stroke="#a3a3a3" stroke-width="1"/>
<line x1="354.00" y1="212.7" x2="354.00" y2="210.2" stroke="#858380" stroke-width="0.8"/>
<text x="354.80" y="225.80" font-size="13.5" text-anchor="middle" fill="#111">0</text>
<line x1="400.80" y1="212.7" x2="400.80" y2="210.2" stroke="#858380" stroke-width="0.8"/>
<text x="400.80" y="225.80" font-size="13.5" text-anchor="middle" fill="#111">20</text>
<line x1="447.60" y1="212.7" x2="447.60" y2="210.2" stroke="#858380" stroke-width="0.8"/>
<text x="447.60" y="225.80" font-size="13.5" text-anchor="middle" fill="#111">40</text>
<line x1="494.40" y1="212.7" x2="494.40" y2="210.2" stroke="#858380" stroke-width="0.8"/>
<text x="494.40" y="225.80" font-size="13.5" text-anchor="middle" fill="#111">60</text>
<line x1="541.20" y1="212.7" x2="541.20" y2="210.2" stroke="#858380" stroke-width="0.8"/>
<text x="541.20" y="225.80" font-size="13.5" text-anchor="middle" fill="#111">80</text>
<line x1="588.00" y1="212.7" x2="588.00" y2="210.2" stroke="#858380" stroke-width="0.8"/>
<text x="588.00" y="225.80" font-size="13.5" text-anchor="middle" fill="#111">100</text>
<line x1="634.80" y1="212.7" x2="634.80" y2="210.2" stroke="#858380" stroke-width="0.8"/>
<text x="634.80" y="225.80" font-size="13.5" text-anchor="middle" fill="#111">120</text>
<line x1="681.60" y1="212.7" x2="681.60" y2="210.2" stroke="#858380" stroke-width="0.8"/>
<text x="681.60" y="225.80" font-size="13.5" text-anchor="middle" fill="#111">140</text>
<line x1="354" y1="25.80" x2="356.5" y2="25.80" stroke="#858380" stroke-width="0.8"/>
<text x="350.90" y="31.30" font-size="13.5" text-anchor="end" fill="#111">0.3</text>
<line x1="354" y1="46.57" x2="356.5" y2="46.57" stroke="#858380" stroke-width="0.8"/>
<text x="350.90" y="51.37" font-size="13.5" text-anchor="end" fill="#111">0.2</text>
<line x1="354" y1="67.33" x2="356.5" y2="67.33" stroke="#858380" stroke-width="0.8"/>
<text x="350.90" y="72.38" font-size="13.5" text-anchor="end" fill="#111">0.1</text>
<line x1="354" y1="88.10" x2="356.5" y2="88.10" stroke="#858380" stroke-width="0.8"/>
<text x="350.90" y="93.10" font-size="13.5" text-anchor="end" fill="#111">0</text>
<line x1="354" y1="108.87" x2="356.5" y2="108.87" stroke="#858380" stroke-width="0.8"/>
<text x="350.90" y="111.17" font-size="13.5" text-anchor="end" fill="#111">-0.1</text>
<line x1="354" y1="129.63" x2="356.5" y2="129.63" stroke="#858380" stroke-width="0.8"/>
<text x="350.90" y="134.38" font-size="13.5" text-anchor="end" fill="#111">-0.2</text>
<line x1="354" y1="150.40" x2="356.5" y2="150.40" stroke="#858380" stroke-width="0.8"/>
<text x="350.90" y="154.70" font-size="13.5" text-anchor="end" fill="#111">-0.3</text>
<line x1="354" y1="171.17" x2="356.5" y2="171.17" stroke="#858380" stroke-width="0.8"/>
<text x="350.90" y="175.97" font-size="13.5" text-anchor="end" fill="#111">-0.4</text>
<line x1="354" y1="191.93" x2="356.5" y2="191.93" stroke="#858380" stroke-width="0.8"/>
<text x="350.90" y="196.23" font-size="13.5" text-anchor="end" fill="#111">-0.5</text>
<line x1="354" y1="212.70" x2="356.5" y2="212.70" stroke="#858380" stroke-width="0.8"/>
<text x="350.90" y="217.10" font-size="13.5" text-anchor="end" fill="#111">-0.6</text>
<text x="301.00" y="123.50" font-size="13.5" text-anchor="middle" fill="#111" transform="rotate(-90 301.0 123.5)">Difference from the standard length (deg)</text>
<text x="734.80" y="121.50" font-size="13.5" text-anchor="middle" fill="#111" transform="rotate(90 734.8 121.5)">Separation between two dots</text>
<g transform="translate(321.50 55.40) rotate(-90)"><text transform="scale(0.93 1)" x="0" y="0" font-size="10.5" fill="#222">Long</text><line x1="22.52" y1="-3.6" x2="31.52" y2="-3.6" stroke="#222" stroke-width="0.75"/><polyline points="29.32,-5.50 31.52,-3.6 29.32,-1.70" fill="none" stroke="#222" stroke-width="0.75"/></g>
<g transform="translate(321.30 221.00) rotate(-90)"><line x1="0.00" y1="-3.6" x2="9.00" y2="-3.6" stroke="#222" stroke-width="0.75"/><polyline points="2.20,-5.50 0.00,-3.6 2.20,-1.70" fill="none" stroke="#222" stroke-width="0.75"/><text transform="translate(9.80 0) scale(0.93 1)" x="0" y="0" font-size="10.5" fill="#222">Short</text></g>
<g transform="translate(713.10 26.00) rotate(90)"><line x1="0.00" y1="-3.6" x2="9.00" y2="-3.6" stroke="#222" stroke-width="0.75"/><polyline points="2.20,-5.50 0.00,-3.6 2.20,-1.70" fill="none" stroke="#222" stroke-width="0.75"/><text transform="translate(9.80 0) scale(0.93 1)" x="0" y="0" font-size="10.5" fill="#222">Large</text></g>
<g transform="translate(713.10 182.00) rotate(90)"><text transform="scale(0.93 1)" x="0" y="0" font-size="10.5" fill="#222">Small</text><line x1="25.22" y1="-3.6" x2="34.22" y2="-3.6" stroke="#222" stroke-width="0.75"/><polyline points="32.02,-5.50 34.22,-3.6 32.02,-1.70" fill="none" stroke="#222" stroke-width="0.75"/></g>
<line x1="354.2" y1="83.4" x2="354.2" y2="120.2" stroke="#111" stroke-width="1.4"/>
<line x1="353.0" y1="83.4" x2="355.4" y2="83.4" stroke="#111" stroke-width="1.2"/>
<line x1="353.0" y1="120.2" x2="355.4" y2="120.2" stroke="#111" stroke-width="1.2"/>
<line x1="375.3" y1="101.7" x2="375.3" y2="130.7" stroke="#111" stroke-width="1.4"/>
<line x1="374.1" y1="101.7" x2="376.5" y2="101.7" stroke="#111" stroke-width="1.2"/>
<line x1="374.1" y1="130.7" x2="376.5" y2="130.7" stroke="#111" stroke-width="1.2"/>
<line x1="413.1" y1="177.2" x2="413.1" y2="189.4" stroke="#111" stroke-width="1.4"/>
<line x1="411.90000000000003" y1="177.2" x2="414.3" y2="177.2" stroke="#111" stroke-width="1.2"/>
<line x1="411.90000000000003" y1="189.4" x2="414.3" y2="189.4" stroke="#111" stroke-width="1.2"/>
<line x1="469.4" y1="157.0" x2="469.4" y2="170.0" stroke="#111" stroke-width="1.4"/>
<line x1="468.2" y1="157.0" x2="470.59999999999997" y2="157.0" stroke="#111" stroke-width="1.2"/>
<line x1="468.2" y1="170.0" x2="470.59999999999997" y2="170.0" stroke="#111" stroke-width="1.2"/>
<line x1="588.4" y1="148.6" x2="588.4" y2="167.8" stroke="#111" stroke-width="1.4"/>
<line x1="587.1999999999999" y1="148.6" x2="589.6" y2="148.6" stroke="#111" stroke-width="1.2"/>
<line x1="587.1999999999999" y1="167.8" x2="589.6" y2="167.8" stroke="#111" stroke-width="1.2"/>
<line x1="692.0" y1="155" x2="692.0" y2="175.7" stroke="#111" stroke-width="1.4"/>
<line x1="690.8" y1="155" x2="693.2" y2="155" stroke="#111" stroke-width="1.2"/>
<line x1="690.8" y1="175.7" x2="693.2" y2="175.7" stroke="#111" stroke-width="1.2"/>
<rect x="351.90" y="44.40" width="4.6" height="4.6" fill="#33437f"/>
<polygon points="354.20,64.10 356.80,66.70 354.20,69.30 351.60,66.70" fill="#a84a4a"/>
<circle cx="354.20" cy="96.40" r="2.60" fill="#6da8c4"/>
<polygon points="354.20,104.93 356.80,109.87 351.60,109.87" fill="#e6e23a"/>
<polygon points="354.20,168.93 356.80,173.87 351.60,173.87" fill="#7b60ac"/>
<circle cx="354.20" cy="121.80" r="2.60" fill="#3f7a30"/>
<rect x="373.00" y="58.20" width="4.6" height="4.6" fill="#33437f"/>
<polygon points="375.30,102.00 377.90,104.60 375.30,107.20 372.70,104.60" fill="#a84a4a"/>
<circle cx="375.30" cy="130.80" r="2.60" fill="#6da8c4"/>
<polygon points="375.30,96.53 377.90,101.47 372.70,101.47" fill="#e6e23a"/>
<polygon points="375.30,175.93 377.90,180.87 372.70,180.87" fill="#7b60ac"/>
<circle cx="375.30" cy="124.80" r="2.60" fill="#3f7a30"/>
<rect x="410.80" y="171.10" width="4.6" height="4.6" fill="#33437f"/>
<polygon points="413.10,165.70 415.70,168.30 413.10,170.90 410.50,168.30" fill="#a84a4a"/>
<circle cx="413.10" cy="176.30" r="2.60" fill="#6da8c4"/>
<polygon points="413.10,203.43 415.70,208.37 410.50,208.37" fill="#e6e23a"/>
<polygon points="413.10,176.03 415.70,180.97 410.50,180.97" fill="#7b60ac"/>
<circle cx="413.10" cy="193.50" r="2.60" fill="#3f7a30"/>
<rect x="467.10" y="190.30" width="4.6" height="4.6" fill="#33437f"/>
<polygon points="469.40,154.40 472.00,157.00 469.40,159.60 466.80,157.00" fill="#a84a4a"/>
<circle cx="469.40" cy="160.00" r="2.60" fill="#6da8c4"/>
<polygon points="469.40,175.93 472.00,180.87 466.80,180.87" fill="#e6e23a"/>
<polygon points="469.40,140.13 472.00,145.07 466.80,145.07" fill="#7b60ac"/>
<circle cx="469.40" cy="147.00" r="2.60" fill="#3f7a30"/>
<rect x="586.10" y="192.70" width="4.6" height="4.6" fill="#33437f"/>
<polygon points="588.40,153.40 591.00,156.00 588.40,158.60 585.80,156.00" fill="#a84a4a"/>
<circle cx="588.40" cy="134.80" r="2.60" fill="#6da8c4"/>
<polygon points="588.40,167.93 591.00,172.87 585.80,172.87" fill="#e6e23a"/>
<polygon points="588.40,130.53 591.00,135.47 585.80,135.47" fill="#7b60ac"/>
<circle cx="588.40" cy="160.50" r="2.60" fill="#3f7a30"/>
<rect x="689.70" y="189.90" width="4.6" height="4.6" fill="#33437f"/>
<polygon points="692.00,165.70 694.60,168.30 692.00,170.90 689.40,168.30" fill="#a84a4a"/>
<circle cx="692.00" cy="114.30" r="2.60" fill="#6da8c4"/>
<polygon points="692.00,179.53 694.60,184.47 689.40,184.47" fill="#e6e23a"/>
<polygon points="692.00,177.53 694.60,182.47 689.40,182.47" fill="#7b60ac"/>
<circle cx="692.00" cy="152.90" r="2.60" fill="#3f7a30"/>
<polyline points="354.2,101.8 375.3,116.2 413.1,183.3 469.4,163.2 588.4,158.2 692.0,165.3" fill="none" stroke="#000" stroke-width="2.5" stroke-linejoin="round"/>
<circle cx="354.20" cy="101.80" r="3.80" fill="#000"/>
<circle cx="375.30" cy="116.20" r="3.80" fill="#000"/>
<circle cx="413.10" cy="183.30" r="3.80" fill="#000"/>
<circle cx="469.40" cy="163.20" r="3.80" fill="#000"/>
<circle cx="588.40" cy="158.20" r="3.80" fill="#000"/>
<circle cx="692.00" cy="165.30" r="3.80" fill="#000"/>
<polygon points="576.70,35.00 580.70,42.60 572.70,42.60" fill="#e6e23a"/>
<text x="587.30" y="43.90" font-size="11" text-anchor="start" fill="#111">RH</text>
<rect x="609.40" y="34.90" width="8.2" height="8.2" fill="#33437f"/>
<text x="620.80" y="43.90" font-size="11" text-anchor="start" fill="#111">AJ</text>
<line x1="641.6" y1="38.4" x2="657" y2="38.4" stroke="#000" stroke-width="3.4" stroke-linecap="round"/>
<circle cx="649.50" cy="38.30" r="3.90" fill="#000"/>
<text x="658.90" y="42.60" font-size="11" text-anchor="start" fill="#111">Average</text>
<polygon points="577.10,52.10 581.20,56.20 577.10,60.30 573.00,56.20" fill="#a84a4a"/>
<text x="587.30" y="59.70" font-size="11" text-anchor="start" fill="#111">KA</text>
<circle cx="613.60" cy="56.20" r="4.20" fill="#6da8c4"/>
<text x="620.80" y="59.70" font-size="11" text-anchor="start" fill="#111">TF</text>
<polygon points="577.00,70.10 581.00,77.70 573.00,77.70" fill="#7b60ac"/>
<text x="587.30" y="77.40" font-size="11" text-anchor="start" fill="#111">CH</text>
<circle cx="613.30" cy="74.20" r="4.10" fill="#3f7a30"/>
<text x="620.80" y="77.40" font-size="11" text-anchor="start" fill="#111">BB</text>
<text x="517.10" y="253.50" font-size="18" text-anchor="middle" fill="#111">Number of adapting dots</text>
<text x="268.00" y="290.00" font-size="16.6" text-anchor="start" font-weight="bold" fill="#000" transform="translate(268.0 290.0) scale(0.89 1) translate(-268.0 -290.0)">D</text>
<rect x="352" y="308.8" width="352.5" height="178.89999999999998" fill="none" stroke="#858380" stroke-width="1.3"/>
<line x1="352" y1="360.50" x2="704.5" y2="360.50" stroke="#bdbdbf" stroke-width="1"/>
<line x1="352.00" y1="487.7" x2="352.00" y2="485.2" stroke="#858380" stroke-width="0.8"/>
<text x="351.70" y="501.30" font-size="13.5" text-anchor="middle" fill="#111">0</text>
<line x1="396.06" y1="487.7" x2="396.06" y2="485.2" stroke="#858380" stroke-width="0.8"/>
<text x="396.06" y="501.30" font-size="13.5" text-anchor="middle" fill="#111">20</text>
<line x1="440.12" y1="487.7" x2="440.12" y2="485.2" stroke="#858380" stroke-width="0.8"/>
<text x="440.12" y="501.30" font-size="13.5" text-anchor="middle" fill="#111">40</text>
<line x1="484.19" y1="487.7" x2="484.19" y2="485.2" stroke="#858380" stroke-width="0.8"/>
<text x="484.19" y="501.30" font-size="13.5" text-anchor="middle" fill="#111">60</text>
<line x1="528.25" y1="487.7" x2="528.25" y2="485.2" stroke="#858380" stroke-width="0.8"/>
<text x="528.25" y="501.30" font-size="13.5" text-anchor="middle" fill="#111">80</text>
<line x1="572.31" y1="487.7" x2="572.31" y2="485.2" stroke="#858380" stroke-width="0.8"/>
<text x="572.31" y="501.30" font-size="13.5" text-anchor="middle" fill="#111">100</text>
<line x1="616.38" y1="487.7" x2="616.38" y2="485.2" stroke="#858380" stroke-width="0.8"/>
<text x="616.38" y="501.30" font-size="13.5" text-anchor="middle" fill="#111">120</text>
<line x1="660.44" y1="487.7" x2="660.44" y2="485.2" stroke="#858380" stroke-width="0.8"/>
<text x="660.44" y="501.30" font-size="13.5" text-anchor="middle" fill="#111">140</text>
<line x1="704.50" y1="487.7" x2="704.50" y2="485.2" stroke="#858380" stroke-width="0.8"/>
<text x="704.50" y="501.30" font-size="13.5" text-anchor="middle" fill="#111">160</text>
<line x1="352" y1="308.80" x2="354.5" y2="308.80" stroke="#858380" stroke-width="0.8"/>
<text x="349.10" y="311.30" font-size="13.5" text-anchor="end" fill="#111">1</text>
<line x1="352" y1="334.36" x2="354.5" y2="334.36" stroke="#858380" stroke-width="0.8"/>
<text x="349.10" y="339.56" font-size="13.5" text-anchor="end" fill="#111">0.5</text>
<line x1="352" y1="359.91" x2="354.5" y2="359.91" stroke="#858380" stroke-width="0.8"/>
<text x="349.10" y="364.21" font-size="13.5" text-anchor="end" fill="#111">0</text>
<line x1="352" y1="385.47" x2="354.5" y2="385.47" stroke="#858380" stroke-width="0.8"/>
<text x="349.10" y="389.37" font-size="13.5" text-anchor="end" fill="#111">-0.5</text>
<line x1="352" y1="411.03" x2="354.5" y2="411.03" stroke="#858380" stroke-width="0.8"/>
<text x="349.10" y="415.33" font-size="13.5" text-anchor="end" fill="#111">-1</text>
<line x1="352" y1="436.59" x2="354.5" y2="436.59" stroke="#858380" stroke-width="0.8"/>
<text x="349.10" y="440.89" font-size="13.5" text-anchor="end" fill="#111">-1.5</text>
<line x1="352" y1="462.14" x2="354.5" y2="462.14" stroke="#858380" stroke-width="0.8"/>
<text x="349.10" y="465.74" font-size="13.5" text-anchor="end" fill="#111">-2</text>
<line x1="352" y1="487.70" x2="354.5" y2="487.70" stroke="#858380" stroke-width="0.8"/>
<text x="349.10" y="488.60" font-size="13.5" text-anchor="end" fill="#111">-2.5</text>
<text x="304.50" y="392.30" font-size="13.4" text-anchor="middle" fill="#111" transform="rotate(-90 304.5 392.3)">Difference from the standard size (deg<tspan font-size="8" dy="-5">2</tspan><tspan dy="5">)</tspan></text>
<text x="740.30" y="397.60" font-size="13.5" text-anchor="middle" fill="#111" transform="rotate(90 740.3 397.6)">Separation between end points</text>
<g transform="translate(322.60 335.90) rotate(-90)"><text transform="scale(0.93 1)" x="0" y="0" font-size="10.5" fill="#222">Large</text><line x1="25.78" y1="-3.6" x2="34.78" y2="-3.6" stroke="#222" stroke-width="0.75"/><polyline points="32.58,-5.50 34.78,-3.6 32.58,-1.70" fill="none" stroke="#222" stroke-width="0.75"/></g>
<g transform="translate(322.00 500.80) rotate(-90)"><line x1="0.00" y1="-3.6" x2="9.00" y2="-3.6" stroke="#222" stroke-width="0.75"/><polyline points="2.20,-5.50 0.00,-3.6 2.20,-1.70" fill="none" stroke="#222" stroke-width="0.75"/><text transform="translate(9.80 0) scale(0.93 1)" x="0" y="0" font-size="10.5" fill="#222">Small</text></g>
<g transform="translate(717.10 303.40) rotate(90)"><line x1="0.00" y1="-3.6" x2="9.00" y2="-3.6" stroke="#222" stroke-width="0.75"/><polyline points="2.20,-5.50 0.00,-3.6 2.20,-1.70" fill="none" stroke="#222" stroke-width="0.75"/><text transform="translate(9.80 0) scale(0.93 1)" x="0" y="0" font-size="10.5" fill="#222">Large</text></g>
<g transform="translate(716.90 459.00) rotate(90)"><text transform="scale(0.93 1)" x="0" y="0" font-size="10.5" fill="#222">Small</text><line x1="25.22" y1="-3.6" x2="34.22" y2="-3.6" stroke="#222" stroke-width="0.75"/><polyline points="32.02,-5.50 34.22,-3.6 32.02,-1.70" fill="none" stroke="#222" stroke-width="0.75"/></g>
<line x1="352.0" y1="362.2" x2="352.0" y2="385.0" stroke="#111" stroke-width="1.4"/>
<line x1="350.8" y1="362.2" x2="353.2" y2="362.2" stroke="#111" stroke-width="1.1"/>
<line x1="350.8" y1="385.0" x2="353.2" y2="385.0" stroke="#111" stroke-width="1.1"/>
<line x1="372.0" y1="347.6" x2="372.0" y2="384.3" stroke="#111" stroke-width="1.4"/>
<line x1="370.8" y1="347.6" x2="373.2" y2="347.6" stroke="#111" stroke-width="1.1"/>
<line x1="370.8" y1="384.3" x2="373.2" y2="384.3" stroke="#111" stroke-width="1.1"/>
<line x1="407.1" y1="406.7" x2="407.1" y2="425.2" stroke="#111" stroke-width="1.4"/>
<line x1="405.90000000000003" y1="406.7" x2="408.3" y2="406.7" stroke="#111" stroke-width="1.1"/>
<line x1="405.90000000000003" y1="425.2" x2="408.3" y2="425.2" stroke="#111" stroke-width="1.1"/>
<line x1="460.2" y1="438.0" x2="460.2" y2="455.0" stroke="#111" stroke-width="1.4"/>
<line x1="459.0" y1="438.0" x2="461.4" y2="438.0" stroke="#111" stroke-width="1.1"/>
<line x1="459.0" y1="455.0" x2="461.4" y2="455.0" stroke="#111" stroke-width="1.1"/>
<line x1="572.0" y1="459.0" x2="572.0" y2="471.0" stroke="#111" stroke-width="1.4"/>
<line x1="570.8" y1="459.0" x2="573.2" y2="459.0" stroke="#111" stroke-width="1.1"/>
<line x1="570.8" y1="471.0" x2="573.2" y2="471.0" stroke="#111" stroke-width="1.1"/>
<line x1="668.6" y1="440.3" x2="668.6" y2="452.3" stroke="#111" stroke-width="1.4"/>
<line x1="667.4" y1="440.3" x2="669.8000000000001" y2="440.3" stroke="#111" stroke-width="1.1"/>
<line x1="667.4" y1="452.3" x2="669.8000000000001" y2="452.3" stroke="#111" stroke-width="1.1"/>
<circle cx="352.00" cy="354.60" r="2.90" fill="#d98a55"/>
<rect x="349.20" y="398.80" width="5.6" height="5.6" fill="#3f52ad"/>
<polygon points="352.00,361.15 355.00,366.85 349.00,366.85" fill="#e6e23a"/>
<circle cx="372.00" cy="346.50" r="2.90" fill="#d98a55"/>
<rect x="369.20" y="407.70" width="5.6" height="5.6" fill="#3f52ad"/>
<polygon points="372.00,337.95 375.00,343.65 369.00,343.65" fill="#e6e23a"/>
<circle cx="407.10" cy="395.60" r="2.90" fill="#d98a55"/>
<rect x="404.30" y="431.60" width="5.6" height="5.6" fill="#3f52ad"/>
<polygon points="407.10,416.15 410.10,421.85 404.10,421.85" fill="#e6e23a"/>
<circle cx="460.20" cy="425.90" r="2.90" fill="#d98a55"/>
<rect x="457.40" y="450.20" width="5.6" height="5.6" fill="#3f52ad"/>
<polygon points="460.20,458.65 463.20,464.35 457.20,464.35" fill="#e6e23a"/>
<circle cx="572.00" cy="450.50" r="2.90" fill="#d98a55"/>
<rect x="569.20" y="472.70" width="5.6" height="5.6" fill="#3f52ad"/>
<polygon points="572.00,466.65 575.00,472.35 569.00,472.35" fill="#e6e23a"/>
<circle cx="668.60" cy="444.30" r="2.90" fill="#d98a55"/>
<rect x="665.80" y="435.00" width="5.6" height="5.6" fill="#3f52ad"/>
<polygon points="668.60,454.75 671.60,460.45 665.60,460.45" fill="#e6e23a"/>
<polyline points="352.0,373.6 372.0,365.9 407.1,416.3 460.2,446.6 572.0,465.1 668.6,446.3" fill="none" stroke="#000" stroke-width="2.1" stroke-linejoin="round"/>
<polygon points="352.00,369.50 356.40,373.60 352.00,377.70 347.60,373.60" fill="#000"/>
<polygon points="372.00,361.80 376.40,365.90 372.00,370.00 367.60,365.90" fill="#000"/>
<polygon points="407.10,412.20 411.50,416.30 407.10,420.40 402.70,416.30" fill="#000"/>
<polygon points="460.20,442.50 464.60,446.60 460.20,450.70 455.80,446.60" fill="#000"/>
<polygon points="572.00,461.00 576.40,465.10 572.00,469.20 567.60,465.10" fill="#000"/>
<polygon points="668.60,442.20 673.00,446.30 668.60,450.40 664.20,446.30" fill="#000"/>
<polygon points="633.00,366.68 636.60,373.52 629.40,373.52" fill="#e6e23a"/>
<text x="643.50" y="374.00" font-size="11" text-anchor="start" fill="#111">RH</text>
<rect x="629.80" y="379.70" width="6.4" height="6.4" fill="#3f52ad"/>
<text x="643.50" y="386.80" font-size="11" text-anchor="start" fill="#111">IA</text>
<circle cx="633.00" cy="396.20" r="3.40" fill="#d98a55"/>
<text x="643.50" y="400.10" font-size="11" text-anchor="start" fill="#111">JG</text>
<line x1="625.7" y1="408.9" x2="640.7" y2="408.9" stroke="#000" stroke-width="2.1"/>
<polygon points="633.20,404.80 637.30,408.90 633.20,413.00 629.10,408.90" fill="#000"/>
<text x="642.60" y="412.80" font-size="11" text-anchor="start" fill="#111">Average</text>
<text x="513.00" y="528.00" font-size="18" text-anchor="middle" fill="#111">Number of adapting dots</text>
<text x="274.20" y="567.00" font-size="16.6" text-anchor="start" font-weight="bold" fill="#000" transform="translate(274.2 567.0) scale(0.89 1) translate(-274.2 -567.0)">F</text>
<rect x="350.8" y="591.1" width="345.90000000000003" height="184.89999999999998" fill="none" stroke="#858380" stroke-width="1.3"/>
<line x1="350.8" y1="714.50" x2="696.7" y2="714.50" stroke="#b5b5b5" stroke-width="1"/>
<line x1="457" y1="591.1" x2="457" y2="776.0" stroke="#b5b5b5" stroke-width="1.8"/>
<line x1="350.80" y1="776.0" x2="350.80" y2="773.5" stroke="#858380" stroke-width="0.8"/>
<text x="353.70" y="786.70" font-size="13.5" text-anchor="middle" fill="#111">0</text>
<line x1="394.04" y1="776.0" x2="394.04" y2="773.5" stroke="#858380" stroke-width="0.8"/>
<text x="394.94" y="786.70" font-size="13.5" text-anchor="middle" fill="#111">20</text>
<line x1="437.28" y1="776.0" x2="437.28" y2="773.5" stroke="#858380" stroke-width="0.8"/>
<text x="438.18" y="786.70" font-size="13.5" text-anchor="middle" fill="#111">40</text>
<line x1="480.51" y1="776.0" x2="480.51" y2="773.5" stroke="#858380" stroke-width="0.8"/>
<text x="481.41" y="786.70" font-size="13.5" text-anchor="middle" fill="#111">60</text>
<line x1="523.75" y1="776.0" x2="523.75" y2="773.5" stroke="#858380" stroke-width="0.8"/>
<text x="524.65" y="786.70" font-size="13.5" text-anchor="middle" fill="#111">80</text>
<line x1="566.99" y1="776.0" x2="566.99" y2="773.5" stroke="#858380" stroke-width="0.8"/>
<text x="568.39" y="786.70" font-size="13.5" text-anchor="middle" fill="#111">100</text>
<line x1="610.23" y1="776.0" x2="610.23" y2="773.5" stroke="#858380" stroke-width="0.8"/>
<text x="612.43" y="786.70" font-size="13.5" text-anchor="middle" fill="#111">120</text>
<line x1="653.46" y1="776.0" x2="653.46" y2="773.5" stroke="#858380" stroke-width="0.8"/>
<text x="655.06" y="786.70" font-size="13.5" text-anchor="middle" fill="#111">140</text>
<line x1="696.70" y1="776.0" x2="696.70" y2="773.5" stroke="#858380" stroke-width="0.8"/>
<text x="695.90" y="786.70" font-size="13.5" text-anchor="middle" fill="#111">160</text>
<line x1="350.8" y1="591.10" x2="353.3" y2="591.10" stroke="#858380" stroke-width="0.8"/>
<text x="348.70" y="596.40" font-size="13.5" text-anchor="end" fill="#111">-20</text>
<line x1="350.8" y1="621.92" x2="353.3" y2="621.92" stroke="#858380" stroke-width="0.8"/>
<text x="348.70" y="627.22" font-size="13.5" text-anchor="end" fill="#111">-15</text>
<line x1="350.8" y1="652.73" x2="353.3" y2="652.73" stroke="#858380" stroke-width="0.8"/>
<text x="348.70" y="656.93" font-size="13.5" text-anchor="end" fill="#111">-10</text>
<line x1="350.8" y1="683.55" x2="353.3" y2="683.55" stroke="#858380" stroke-width="0.8"/>
<text x="348.70" y="688.75" font-size="13.5" text-anchor="end" fill="#111">-5</text>
<line x1="350.8" y1="714.37" x2="353.3" y2="714.37" stroke="#858380" stroke-width="0.8"/>
<text x="348.70" y="719.47" font-size="13.5" text-anchor="end" fill="#111">0</text>
<line x1="350.8" y1="745.18" x2="353.3" y2="745.18" stroke="#858380" stroke-width="0.8"/>
<text x="348.70" y="750.58" font-size="13.5" text-anchor="end" fill="#111">5</text>
<line x1="350.8" y1="776.00" x2="353.3" y2="776.00" stroke="#858380" stroke-width="0.8"/>
<text x="348.70" y="779.10" font-size="13.5" text-anchor="end" fill="#111">10</text>
<text x="304.50" y="688.20" font-size="13.6" text-anchor="middle" fill="#111" transform="rotate(-90 304.5 688.2)">Difference from the standard number</text>
<text x="734.40" y="679.10" font-size="13.55" text-anchor="middle" fill="#111" transform="rotate(90 734.4 679.1)">Separation among dots</text>
<g transform="translate(322.50 627.40) rotate(-90)"><text transform="scale(0.93 1)" x="0" y="0" font-size="10.5" fill="#222">Sparse</text><line x1="31.74" y1="-3.6" x2="40.74" y2="-3.6" stroke="#222" stroke-width="0.75"/><polyline points="38.54,-5.50 40.74,-3.6 38.54,-1.70" fill="none" stroke="#222" stroke-width="0.75"/></g>
<g transform="translate(325.30 781.70) rotate(-90)"><line x1="0.00" y1="-3.6" x2="9.00" y2="-3.6" stroke="#222" stroke-width="0.75"/><polyline points="2.20,-5.50 0.00,-3.6 2.20,-1.70" fill="none" stroke="#222" stroke-width="0.75"/><text transform="translate(9.80 0) scale(0.93 1)" x="0" y="0" font-size="10.5" fill="#222">Dense</text></g>
<g transform="translate(712.80 588.60) rotate(90)"><line x1="0.00" y1="-3.6" x2="9.00" y2="-3.6" stroke="#222" stroke-width="0.75"/><polyline points="2.20,-5.50 0.00,-3.6 2.20,-1.70" fill="none" stroke="#222" stroke-width="0.75"/><text transform="translate(9.80 0) scale(0.93 1)" x="0" y="0" font-size="10.5" fill="#222">Large</text></g>
<g transform="translate(713.00 744.30) rotate(90)"><text transform="scale(0.93 1)" x="0" y="0" font-size="10.5" fill="#222">Small</text><line x1="25.22" y1="-3.6" x2="34.22" y2="-3.6" stroke="#222" stroke-width="0.75"/><polyline points="32.02,-5.50 34.22,-3.6 32.02,-1.70" fill="none" stroke="#222" stroke-width="0.75"/></g>
<line x1="350.5" y1="729.5" x2="350.5" y2="738.0" stroke="#111" stroke-width="1.5"/>
<line x1="348.8" y1="729.5" x2="352.2" y2="729.5" stroke="#111" stroke-width="1.2"/>
<line x1="348.8" y1="738.0" x2="352.2" y2="738.0" stroke="#111" stroke-width="1.2"/>
<line x1="370.0" y1="741.2" x2="370.0" y2="756.5" stroke="#111" stroke-width="1.5"/>
<line x1="368.3" y1="741.2" x2="371.7" y2="741.2" stroke="#111" stroke-width="1.2"/>
<line x1="368.3" y1="756.5" x2="371.7" y2="756.5" stroke="#111" stroke-width="1.2"/>
<line x1="404.6" y1="693.9" x2="404.6" y2="727.4" stroke="#111" stroke-width="1.5"/>
<line x1="402.90000000000003" y1="693.9" x2="406.3" y2="693.9" stroke="#111" stroke-width="1.2"/>
<line x1="402.90000000000003" y1="727.4" x2="406.3" y2="727.4" stroke="#111" stroke-width="1.2"/>
<line x1="456.5" y1="668.0" x2="456.5" y2="691.6" stroke="#111" stroke-width="1.5"/>
<line x1="454.8" y1="668.0" x2="458.2" y2="668.0" stroke="#111" stroke-width="1.2"/>
<line x1="454.8" y1="691.6" x2="458.2" y2="691.6" stroke="#111" stroke-width="1.2"/>
<line x1="566.4" y1="631.8" x2="566.4" y2="643.0" stroke="#111" stroke-width="1.5"/>
<line x1="564.6999999999999" y1="631.8" x2="568.1" y2="631.8" stroke="#111" stroke-width="1.2"/>
<line x1="564.6999999999999" y1="643.0" x2="568.1" y2="643.0" stroke="#111" stroke-width="1.2"/>
<line x1="661.9" y1="610.5" x2="661.9" y2="617.5" stroke="#111" stroke-width="1.5"/>
<line x1="660.1999999999999" y1="610.5" x2="663.6" y2="610.5" stroke="#111" stroke-width="1.2"/>
<line x1="660.1999999999999" y1="617.5" x2="663.6" y2="617.5" stroke="#111" stroke-width="1.2"/>
<circle cx="350.50" cy="724.70" r="3.20" fill="#6da8c4"/>
<rect x="347.40" y="742.90" width="6.2" height="6.2" fill="#3f52ad"/>
<polygon points="350.50,728.27 353.90,734.73 347.10,734.73" fill="#e6e23a"/>
<circle cx="370.00" cy="749.70" r="3.20" fill="#6da8c4"/>
<rect x="366.90" y="730.10" width="6.2" height="6.2" fill="#3f52ad"/>
<polygon points="370.00,760.37 373.40,766.83 366.60,766.83" fill="#e6e23a"/>
<circle cx="404.60" cy="706.60" r="3.20" fill="#6da8c4"/>
<rect x="401.50" y="673.60" width="6.2" height="6.2" fill="#3f52ad"/>
<polygon points="404.60,744.67 408.00,751.13 401.20,751.13" fill="#e6e23a"/>
<circle cx="456.50" cy="680.30" r="3.20" fill="#6da8c4"/>
<rect x="453.40" y="652.70" width="6.2" height="6.2" fill="#3f52ad"/>
<polygon points="456.50,702.07 459.90,708.53 453.10,708.53" fill="#e6e23a"/>
<circle cx="566.40" cy="647.40" r="3.20" fill="#6da8c4"/>
<rect x="563.30" y="640.00" width="6.2" height="6.2" fill="#3f52ad"/>
<polygon points="566.40,619.17 569.80,625.63 563.00,625.63" fill="#e6e23a"/>
<circle cx="661.90" cy="606.80" r="3.20" fill="#6da8c4"/>
<rect x="658.80" y="621.30" width="6.2" height="6.2" fill="#3f52ad"/>
<polyline points="350.5,733.7 370.0,748.9 404.6,710.4 456.5,680.3 566.4,638.0 661.9,613.9" fill="none" stroke="#000" stroke-width="2.2" stroke-linejoin="round"/>
<polygon points="350.50,729.25 355.20,733.70 350.50,738.15 345.80,733.70" fill="#000"/>
<polygon points="370.00,744.45 374.70,748.90 370.00,753.35 365.30,748.90" fill="#000"/>
<polygon points="404.60,705.95 409.30,710.40 404.60,714.85 399.90,710.40" fill="#000"/>
<polygon points="456.50,675.85 461.20,680.30 456.50,684.75 451.80,680.30" fill="#000"/>
<polygon points="566.40,633.55 571.10,638.00 566.40,642.45 561.70,638.00" fill="#000"/>
<polygon points="661.90,609.45 666.60,613.90 661.90,618.35 657.20,613.90" fill="#000"/>
<rect x="629.80" y="659.80" width="6.4" height="6.4" fill="#3f52ad"/>
<text x="642.60" y="667.00" font-size="11" text-anchor="start" fill="#111">IA</text>
<polygon points="633.00,673.38 636.60,680.22 629.40,680.22" fill="#e6e23a"/>
<text x="642.60" y="680.70" font-size="11" text-anchor="start" fill="#111">RH</text>
<circle cx="633.00" cy="691.00" r="3.40" fill="#6da8c4"/>
<text x="642.60" y="694.90" font-size="11" text-anchor="start" fill="#111">TF</text>
<line x1="626.4" y1="702" x2="640.6" y2="702" stroke="#000" stroke-width="2.1"/>
<polygon points="633.50,697.90 637.60,702.00 633.50,706.10 629.40,702.00" fill="#000"/>
<text x="642.60" y="705.90" font-size="11" text-anchor="start" fill="#111">Average</text>
<text x="525.00" y="808.40" font-size="14.8" text-anchor="middle" fill="#111">Number of adapting dots</text>
</svg>
</body></html>
